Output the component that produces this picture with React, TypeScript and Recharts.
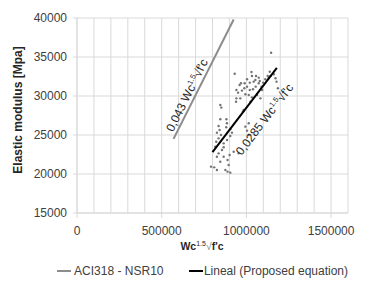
import React from 'react';
import {
  ScatterChart, Scatter, XAxis, YAxis, CartesianGrid, Legend, ReferenceDot, Label,
} from 'recharts';

// Measured points (Wc^1.5 * sqrt(f'c), Elastic modulus)
const pointsX = [
  1146000, 931000, 1030000, 1057000, 1073000, 1079000, 1043000, 1020000, 1004000, 990000,
  968000, 960000, 941000, 951000, 974000, 988000, 1004000, 1020000, 1039000, 1055000,
  1073000, 1089000, 1099000, 1112000, 1132000, 1142000, 1162000, 1172000, 1178000, 1138000,
  1063000, 1083000, 1033000, 1014000, 994000, 964000, 984000, 846000, 852000, 846000,
  882000, 941000, 939000, 1186000, 1126000, 1033000, 1053000, 1093000, 980000, 1024000,
  842000, 826000, 850000, 836000, 822000, 866000, 886000, 905000, 915000, 994000,
  1004000, 1014000, 925000, 954000, 856000, 836000, 826000, 866000, 889000, 901000,
  791000, 810000, 826000, 876000, 889000, 905000, 895000, 846000, 816000, 866000,
  881000, 905000, 1014000, 836000, 885000,
];
const pointsY = [
  35550, 32860, 33080, 32560, 32350, 31920, 31840, 31710, 32140, 31630,
  31630, 31410, 30770, 30430, 30690, 30990, 31200, 30770, 30860, 31200,
  31630, 31200, 31710, 32140, 32350, 32560, 32780, 32270, 31840, 33110,
  30130, 29700, 29830, 30130, 30220, 29700, 28210, 28850, 28510, 27010,
  27010, 29700, 29270, 30990, 32560, 32560, 32050, 30770, 28000, 29270,
  25640, 25300, 25000, 24570, 24140, 23930, 24360, 24870, 25300, 26070,
  25560, 25000, 22860, 22650, 23080, 22650, 22220, 22220, 21800, 22440,
  20940, 20850, 20510, 20510, 20300, 20170, 21160, 21580, 23500, 23420,
  26000, 25730, 26500, 26160, 26500,
];

// Trend lines (end points)
const aciX = [570000, 925000];
const aciY = [24500, 39800];
const propX = [800000, 1180000];
const propY = [22800, 33600];

// Axes
const xTicks = [
  0, 100000, 200000, 300000, 400000, 500000, 600000, 700000, 800000, 900000,
  1000000, 1100000, 1200000, 1300000, 1400000, 1500000, 1600000,
];
const xMajor = [0, 500000, 1000000, 1500000];
const yTicks = [15000, 20000, 25000, 30000, 35000, 40000];

const seriesNames = ['ACI318 - NSR10', 'Lineal (Proposed equation)'];

const points = pointsX.map((x, i) => ({ x, y: pointsY[i] }));
const aciData = aciX.map((x, i) => ({ x, y: aciY[i] }));
const propData = propX.map((x, i) => ({ x, y: propY[i] }));

const FONT = '"Liberation Sans", Arial, sans-serif';
const GRID = '#d9d9d9';
const TXT = '#404040';

const XTick = (props: any) => {
  const { x, payload } = props;
  if (!xMajor.includes(payload.value)) return <g />;
  return (
    <g>
      <line x1={x} x2={x} y1={213} y2={218} stroke={GRID} />
      <text x={x} y={235} textAnchor="middle" fontSize={12} fill={TXT} fontFamily={FONT}>
        {payload.value}
      </text>
    </g>
  );
};

const Formula = ({ coef, size }: { coef: string; size: number }) => (
  <>
    <tspan>{coef} Wc</tspan>
    <tspan fontSize={size * 0.62} dy={-size * 0.38}>1.5</tspan>
    <tspan dy={size * 0.38}>√f'c</tspan>
  </>
);

const RotLabel = (angle: number, coef: string, size: number) => (p: any) => (
  <text
    x={p.cx}
    y={p.cy}
    transform={`rotate(${angle} ${p.cx} ${p.cy})`}
    textAnchor="middle"
    fontSize={size}
    fill="#262626"
    fontFamily={FONT}
  >
    <Formula coef={coef} size={size} />
  </text>
);

const Dot = (p: any) => <circle cx={p.cx} cy={p.cy} r={1.2} fill="#737373" />;
const NoShape = () => <g />;

const LegendContent = () => (
  <div
    style={{
      display: 'flex',
      alignItems: 'center',
      height: 26,
      fontFamily: FONT,
      fontSize: 12,
      color: TXT,
      paddingLeft: 57,
      whiteSpace: 'nowrap',
    }}
  >
    <span style={{ display: 'inline-block', width: 20, height: 2, background: '#8c8c8c', marginRight: 3 }} />
    <span style={{ marginRight: 26 }}>{seriesNames[0]}</span>
    <span style={{ display: 'inline-block', width: 19, height: 2, background: '#000', marginRight: 1 }} />
    <span>{seriesNames[1]}</span>
  </div>
);

export default function App() {
  return (
    <div style={{ position: 'absolute', left: 0, top: 0, width: 365, height: 282, background: '#fff' }}>
      <ScatterChart width={365} height={282} margin={{ top: 18, right: 17, left: 0, bottom: 0 }}>
        <CartesianGrid stroke={GRID} />
        <XAxis
          type="number"
          dataKey="x"
          domain={[0, 1600000]}
          ticks={xTicks}
          interval={0}
          tick={<XTick />}
          tickLine={false}
          axisLine={{ stroke: GRID }}
          height={45}
        >
          <Label
            content={() => (
              <text x={202} y={250} textAnchor="middle" fontSize={10.5} fontWeight="bold" fill="#262626" fontFamily={FONT}>
                <tspan>Wc</tspan>
                <tspan fontSize={7} fontWeight="normal" dy={-4}>1.5</tspan>
                <tspan dy={4} fontWeight="normal" fill="#7f7f7f">√</tspan>
                <tspan>f'c</tspan>
              </text>
            )}
          />
        </XAxis>
        <YAxis
          type="number"
          dataKey="y"
          domain={[15000, 40000]}
          ticks={yTicks}
          interval={0}
          tickLine={{ stroke: GRID }}
          tickSize={4}
          tickMargin={6}
          axisLine={{ stroke: GRID }}
          width={77}
          tick={{ fontSize: 12, fill: TXT, fontFamily: FONT }}
        >
          <Label
            content={() => (
              <text
                x={22}
                y={110}
                transform="rotate(-90 22 110)"
                textAnchor="middle"
                fontSize={12}
                fontWeight="bold"
                fill="#262626"
                fontFamily={FONT}
              >
                Elastic modulus [Mpa]
              </text>
            )}
          />
        </YAxis>
        <Legend verticalAlign="bottom" height={24} content={<LegendContent />} />
        <Scatter name="points" data={points} shape={<Dot />} isAnimationActive={false} legendType="none" />
        <Scatter
          name={seriesNames[0]}
          data={aciData}
          line={{ stroke: '#8c8c8c', strokeWidth: 2 }}
          shape={<NoShape />}
          isAnimationActive={false}
        />
        <Scatter
          name={seriesNames[1]}
          data={propData}
          line={{ stroke: '#000', strokeWidth: 2 }}
          shape={<NoShape />}
          isAnimationActive={false}
        />
        <ReferenceDot x={671000} y={29860} r={0} shape={RotLabel(-63.6, '0,043', 12)} />
        <ReferenceDot x={1126000} y={26694} r={0} shape={RotLabel(-52.6, '0,0285', 12)} />
      </ScatterChart>
    </div>
  );
}
